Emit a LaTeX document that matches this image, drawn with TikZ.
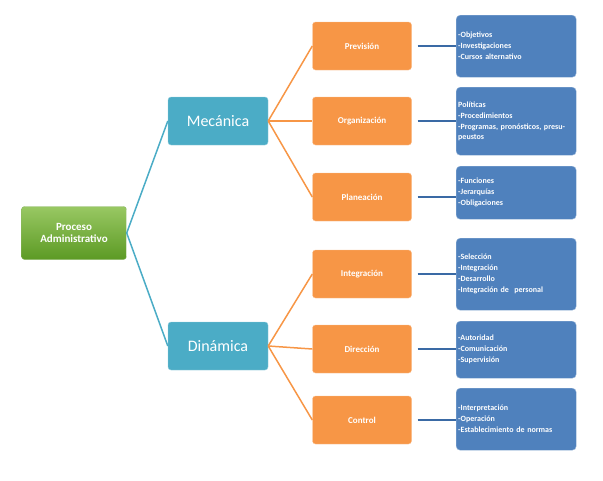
\documentclass[tikz,border=0pt]{standalone}
\usepackage{fontspec}
\setmainfont{Carlito}
\definecolor{grn}{HTML}{7FBA3C}
\definecolor{grnd}{HTML}{5C9A24}
\definecolor{tealc}{HTML}{4BACC6}
\definecolor{orng}{HTML}{F79646}
\definecolor{blu}{HTML}{4F81BD}
\definecolor{blud}{HTML}{3A6AA5}
\begin{document}
\begin{tikzpicture}[x=1pt,y=-1pt,
  root/.style={rounded corners=3pt,top color=grn!80!white,bottom color=grnd,draw=grnd!70!white,text=white,font=\bfseries\fontsize{11}{12}\selectfont,align=center,minimum width=105pt,minimum height=53pt,inner sep=1pt},
  mid/.style={rounded corners=3pt,fill=tealc,draw=tealc!60!white,text=white,font=\fontsize{16}{18}\selectfont,minimum width=100pt,minimum height=48pt},
  ora/.style={rounded corners=3pt,fill=orng,draw=orng!60!white,text=white,font=\bfseries\fontsize{9}{10}\selectfont,minimum width=99pt,minimum height=48pt},
  bluebox/.style={rounded corners=4pt,fill=blu,draw=blu!60!white,text=white,font=\bfseries\fontsize{8}{10}\selectfont,align=left,text width=116pt,inner sep=2pt,anchor=north west},
  tl/.style={tealc,line width=1.5pt},
  ol/.style={orng,line width=1.5pt},
  bl/.style={blud,line width=2pt}]
\useasboundingbox (0,0) rectangle (603,480);
\node[root] (p) at (74,233) {Proceso\\Administrativo};
\node[mid] (m) at (218,121) {Mecánica};
\node[mid] (d) at (218,346) {Dinámica};
\node[ora] (o1) at (362,46) {Previsión};
\node[ora] (o2) at (362,121) {Organización};
\node[ora] (o3) at (362,197) {Planeación};
\node[ora] (o4) at (362,274) {Integración};
\node[ora] (o5) at (362,349) {Dirección};
\node[ora] (o6) at (362,420) {Control};
\node[bluebox,minimum height=62pt] (b1) at (456,15) {-Objetivos\\[1pt]-Investigaciones\\[1pt]-Cursos alternativo};
\node[bluebox,minimum height=68pt] (b2) at (456,87) {Políticas\\[1pt]-Procedimientos\\[1pt]-Programas, pronósticos, presupeustos};
\node[bluebox,minimum height=53pt] (b3) at (456,166) {-Funciones\\[1pt]-Jerarquías\\[1pt]-Obligaciones};
\node[bluebox,minimum height=72pt] (b4) at (456,238) {-Selección\\[1pt]-Integración\\[1pt]-Desarrollo\\[1pt]-Integración de~ personal};
\node[bluebox,minimum height=57pt] (b5) at (456,321) {-Autoridad\\[1pt]-Comunicación\\[1pt]-Supervisión};
\node[bluebox,minimum height=62pt] (b6) at (456,388) {-Interpretación\\[1pt]-Operación\\[1pt]-Establecimiento de normas};
\draw[tl] (p.east) -- (m.west);
\draw[tl] (p.east) -- (d.west);
\foreach \o in {o1,o2,o3} \draw[ol] (m.east) -- (\o.west);
\foreach \o in {o4,o5,o6} \draw[ol] (d.east) -- (\o.west);
\foreach \i in {1,...,6} \draw[bl] ([xshift=6pt]o\i.east) -- (b\i.west|-o\i.east);
\end{tikzpicture}
\end{document}
